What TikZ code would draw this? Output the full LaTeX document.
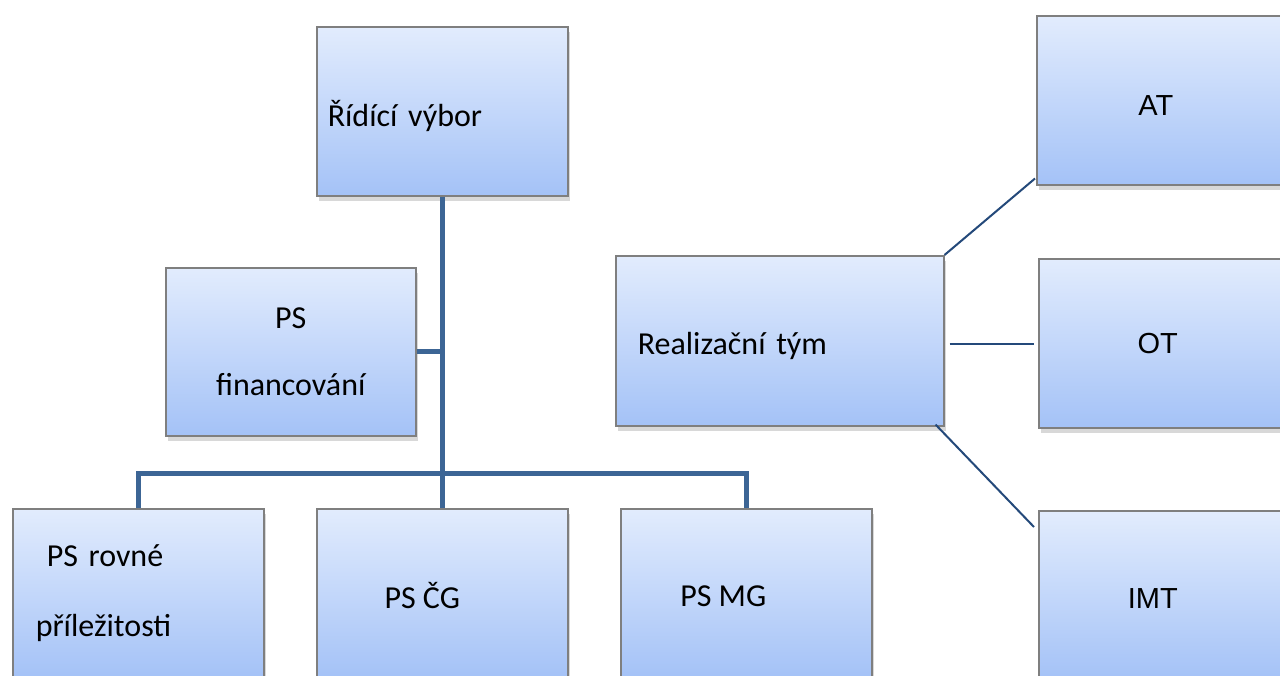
\documentclass[tikz,border=0pt]{standalone}
\usepackage{fontspec}
\setmainfont{Carlito}
\newfontfamily\arialf{Liberation Sans}
\usetikzlibrary{shadows,calc}
\definecolor{boxtop}{HTML}{E2ECFD}
\definecolor{boxbot}{HTML}{A4C2F7}
\definecolor{boxline}{HTML}{7F7F7F}
\definecolor{trunkc}{HTML}{3C6595}
\definecolor{thinc}{HTML}{24497A}
\newcommand{\lowerby}[2]{\raisebox{-#1}[\height][\depth]{#2}}
\begin{document}
\begin{tikzpicture}[x=1pt,y=-1pt,
  box/.style={draw=boxline, line width=1.5pt, top color=boxtop, bottom color=boxbot,
    drop shadow={shadow xshift=2pt,shadow yshift=-5pt,opacity=0.3},
    minimum width=251pt, minimum height=169pt, inner sep=0pt,
    font=\fontsize{32}{67}\selectfont, anchor=north west},
  abox/.style={box, font=\arialf\fontsize{29}{34}\selectfont},
  trunkline/.style={draw=trunkc, line width=5pt, line join=miter},
  thinline/.style={draw=thinc, line width=2pt}]
\useasboundingbox (0,0) rectangle (1280,675);
\clip (0,0) rectangle (1280,675);
\fill[white] (0,0) rectangle (1280,675);

\node[box, text width=229pt, inner xsep=11pt, align=left] (rv) at (316,26) {\lowerby{5pt}{Řídící výbor}};
\node[box, minimum width=250pt, minimum height=168pt, align=center] (fin) at (165,267) {PS\\financování};
\node[box, text width=205pt, inner xsep=23pt, align=left, font=\fontsize{32}{70}\selectfont] (rov) at (12,508) {\hspace*{11pt}PS rovné\\příležitosti};
\node[box] (cg) at (316,508) {\lowerby{2pt}{PS ČG}\hspace*{40pt}};
\node[box] (mg) at (620,508) {\lowerby{3pt}{PS MG}\hspace*{46pt}};
\node[box, minimum width=328pt, minimum height=170pt, text width=284pt, inner xsep=22pt, align=left] (rt) at (615,255) {\lowerby{5pt}{Realizační tým}};
\node[abox] (at) at (1036,15) {\lowerby{5pt}{AT}\hspace*{13pt}};
\node[abox] (ot) at (1038,258) {OT\hspace*{13pt}};
\node[abox] (imt) at (1038,510) {\lowerby{3pt}{IMT}\hspace*{23pt}};

\draw[trunkline] (rv.south) -- (rv.south |- cg.north);
\draw[trunkline] (fin.east) -- (fin.east -| rv.south);
\draw[trunkline] (rov.north) -- ++(0,-35) -| (mg.north);

\draw[thinline] (rt.north east) -- ($(at.south west)+(-1,-7)$);
\draw[thinline] ($(rt.east)+(5,3)$) -- ($(ot.west)+(-4,0.5)$);
\draw[thinline] ($(rt.south east)+(-9,-2)$) -- ($(imt.north west)+(-4,17)$);
\end{tikzpicture}
\end{document}
